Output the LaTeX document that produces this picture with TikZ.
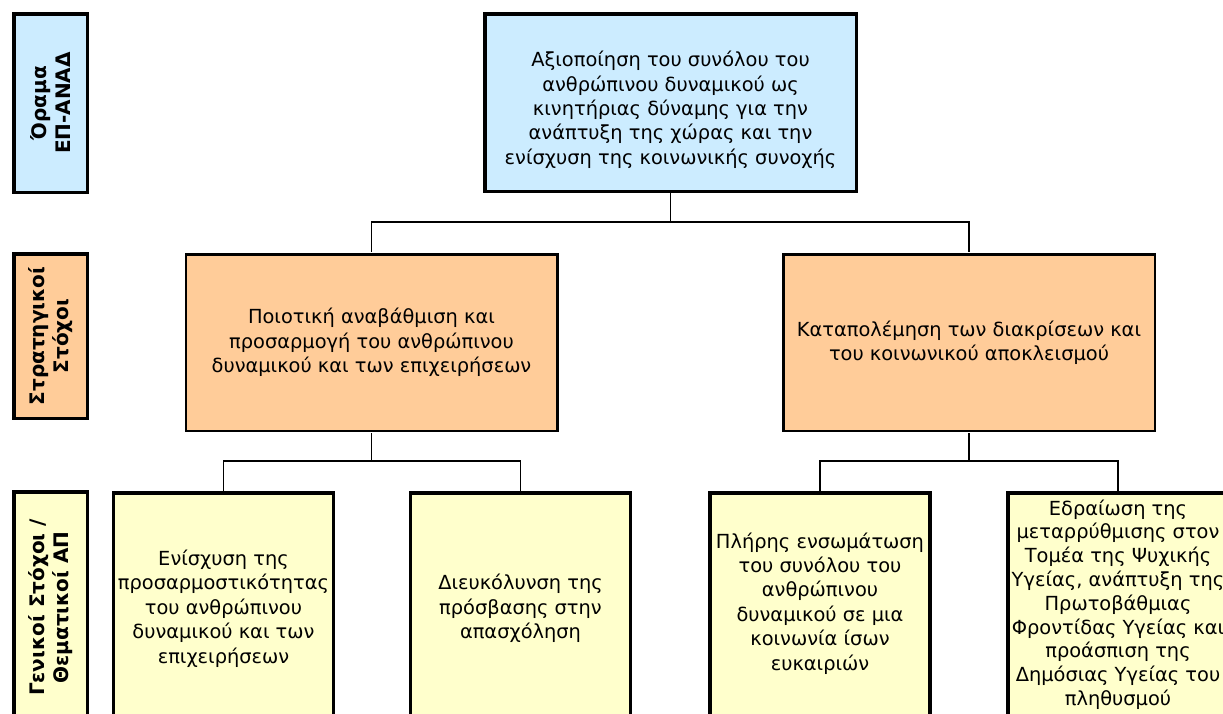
\documentclass[tikz,border=0pt]{standalone}
\usepackage{fontspec}
\setmainfont{DejaVu Sans}
\definecolor{blueF}{HTML}{CCECFF}
\definecolor{orangeF}{HTML}{FFCC99}
\definecolor{yellowF}{HTML}{FFFFCC}
\tikzset{
  box/.style={draw=black, line width=3.5pt, inner sep=1pt, align=center, anchor=center,
    font=\fontsize{19.4}{24.4}\selectfont},
  vision/.style={box, fill=blueF, minimum width=371.5pt, minimum height=177.5pt},
  strat/.style={box, fill=orangeF, minimum width=372.5pt, minimum height=177.5pt},
  goal/.style={box, fill=yellowF, minimum width=220pt, minimum height=231pt},
  sidelabel/.style={draw=black, line width=3.5pt, inner sep=1pt, align=center, rotate=90,
    minimum height=73.5pt, font=\fontsize{20}{24}\selectfont\bfseries},
  conn/.style={draw=black, line width=1.2pt}
}
\begin{document}
\begin{tikzpicture}[x=1pt, y=-1pt]
\clip (0,0) rectangle (1223,713);
% side labels
\node[sidelabel, fill=blueF, minimum width=178.5pt] (l1) at (50.5,103) {Όραμα\\ΕΠ-ΑΝΑΔ};
\node[sidelabel, fill=orangeF, minimum width=164.5pt] (l2) at (50.5,336) {Στρατηγικοί\\Στόχοι};
\node[sidelabel, fill=yellowF, minimum width=231.5pt] (l3) at (50.5,607.5) {Γενικοί Στόχοι /\\Θεματικοί ΑΠ};
% vision
\node[vision] (top) at (670.5,102.5) {\rule{0pt}{30pt}Αξιοποίηση του συνόλου του\\ανθρώπινου δυναμικού ως\\κινητήριας δύναμης για την\\ανάπτυξη της χώρας και την\\ενίσχυση της κοινωνικής συνοχής};
% strategic
\node[strat] (o1) at (371.5,342.5) {Ποιοτική αναβάθμιση και\\προσαρμογή του ανθρώπινου\\δυναμικού και των επιχειρήσεων};
\node[strat] (o2) at (969,342.5) {Καταπολέμηση των διακρίσεων και\\του κοινωνικού αποκλεισμού};
% inner white stripes of the double borders
\foreach \n in {o1,o2}{
  \draw[white, line width=0.8pt] ([xshift=0.6pt,yshift=-0.6pt]\n.north west) rectangle ([xshift=-0.6pt,yshift=0.6pt]\n.south east);
}
% goals
\node[goal] (y1) at (223.5,608.5) {Ενίσχυση της\\προσαρμοστικότητας\\του ανθρώπινου\\δυναμικού και των\\επιχειρήσεων};
\node[goal] (y2) at (520.5,608.5) {Διευκόλυνση της\\πρόσβασης στην\\απασχόληση};
\node[goal] (y3) at (820,608.5) {Πλήρης ενσωμάτωση\\του συνόλου του\\ανθρώπινου\\δυναμικού σε μια\\κοινωνία ίσων\\ευκαιριών\\[-10pt]\mbox{}};
\node[goal, font=\fontsize{19.4}{23.8}\selectfont] (y4) at (1118,608.5) {Εδραίωση της\\μεταρρύθμισης στον\\Τομέα της Ψυχικής\\Υγείας, ανάπτυξη της\\Πρωτοβάθμιας\\Φροντίδας Υγείας και\\προάσπιση της\\Δημόσιας Υγείας του\\πληθυσμού\\[-12pt]\mbox{}};
% connectors
\draw[conn] (top.south) -- ++(0,29) coordinate (j1);
\draw[conn] (j1) -| (o1.north);
\draw[conn] (j1) -| (o2.north);
\draw[conn] (o1.south) -- ++(0,28) coordinate (j2);
\draw[conn] (j2) -| (y1.north);
\draw[conn] (j2) -| (y2.north);
\draw[conn] (o2.south) -- ++(0,28) coordinate (j3);
\draw[conn] (j3) -| (y3.north);
\draw[conn] (j3) -| (y4.north);
\end{tikzpicture}
\end{document}
